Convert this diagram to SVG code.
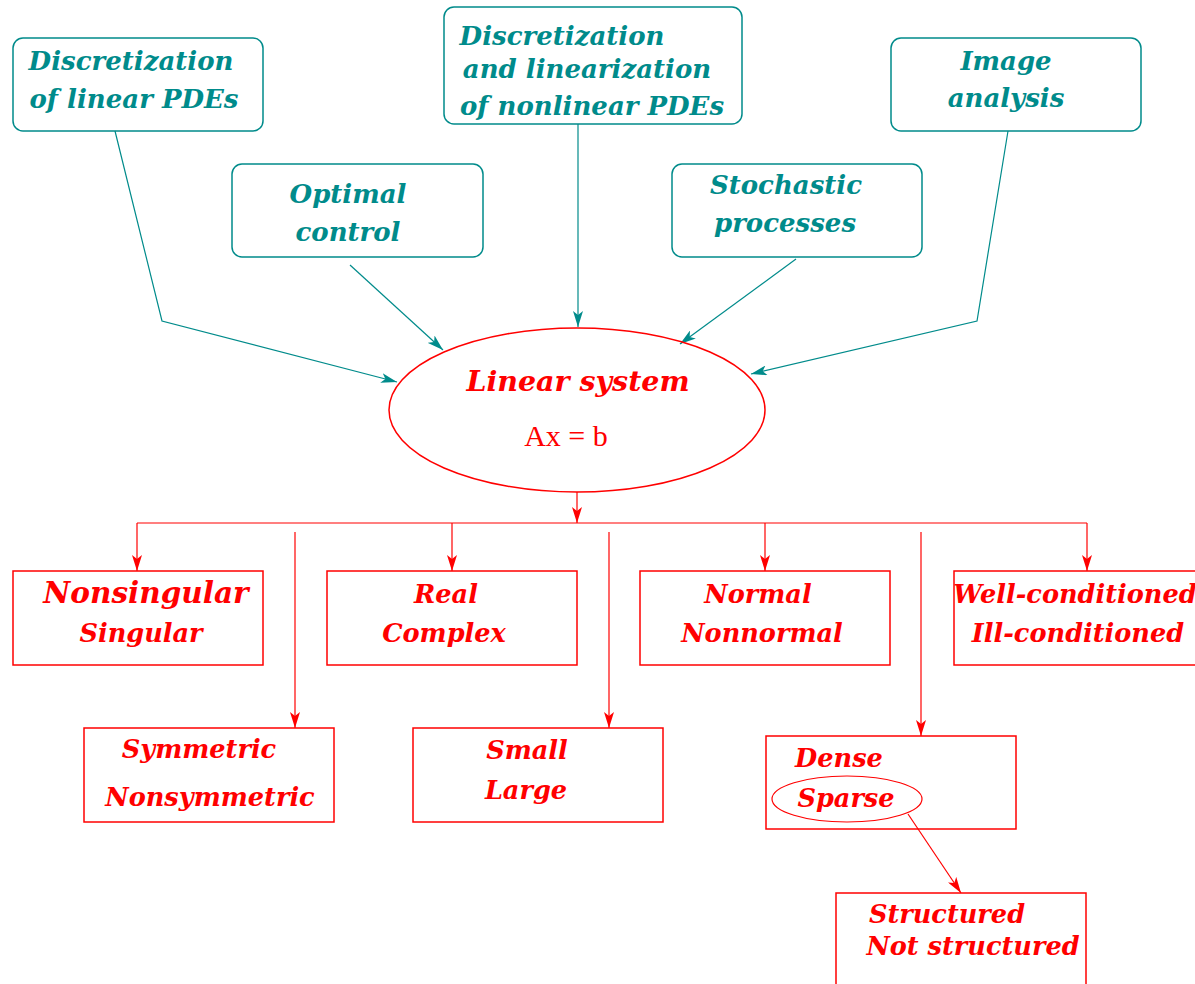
<svg xmlns="http://www.w3.org/2000/svg" width="1195" height="984" viewBox="0 0 1195 984">
<style>
.tbox{fill:none;stroke:#008b8b;stroke-width:1.5}
.rbox{fill:none;stroke:#ff0000;stroke-width:1.5}
.tl{font-family:"DejaVu Serif",serif;font-weight:bold;font-style:italic;font-size:26px;fill:#008b8b;text-anchor:middle}
.rl{font-family:"DejaVu Serif",serif;font-weight:bold;font-style:italic;font-size:25.6px;fill:#ff0000;text-anchor:middle}
.tc{fill:none;stroke:#008b8b;stroke-width:1.2}
.rc{fill:none;stroke:#ff0000;stroke-width:1.2}
</style>
<defs>
<marker id="at" viewBox="0 0 16 10" refX="16" refY="5" markerWidth="16" markerHeight="10" markerUnits="userSpaceOnUse" orient="auto">
<path d="M0,0 L16,5 L0,10 L4,5 z" fill="#008b8b"/>
</marker>
<marker id="ar" viewBox="0 0 16 10" refX="16" refY="5" markerWidth="16" markerHeight="10" markerUnits="userSpaceOnUse" orient="auto">
<path d="M0,0 L16,5 L0,10 L4,5 z" fill="#ff0000"/>
</marker>
</defs>
<rect width="1195" height="984" fill="#ffffff"/>
<g id="connectors">
<polyline class="tc" points="115,131 162,321 397,382" marker-end="url(#at)"/>
<line class="tc" x1="350" y1="265" x2="443" y2="350" marker-end="url(#at)"/>
<line class="tc" x1="578" y1="124" x2="578" y2="327" marker-end="url(#at)"/>
<line class="tc" x1="796" y1="259" x2="680" y2="344" marker-end="url(#at)"/>
<polyline class="tc" points="1008,131 977,321 751,374" marker-end="url(#at)"/>
<line class="rc" x1="577" y1="492" x2="577" y2="523" marker-end="url(#ar)"/>
<line class="rc" x1="137" y1="523" x2="1087" y2="523"/>
<line class="rc" x1="137" y1="523" x2="137" y2="571" marker-end="url(#ar)"/>
<line class="rc" x1="452" y1="523" x2="452" y2="571" marker-end="url(#ar)"/>
<line class="rc" x1="765" y1="523" x2="765" y2="571" marker-end="url(#ar)"/>
<line class="rc" x1="1087" y1="523" x2="1087" y2="571" marker-end="url(#ar)"/>
<line class="rc" x1="295" y1="532" x2="295" y2="728" marker-end="url(#ar)"/>
<line class="rc" x1="609" y1="532" x2="609" y2="728" marker-end="url(#ar)"/>
<line class="rc" x1="921" y1="532" x2="921" y2="736" marker-end="url(#ar)"/>
<line class="rc" x1="908" y1="814" x2="961" y2="893" marker-end="url(#ar)"/>
</g>
<g id="n-linear-pdes">
<rect class="tbox" x="13" y="38" width="250" height="93" rx="10"/>
<text class="tl" x="131" y="70">Discretization</text>
<text class="tl" x="134" y="108">of linear PDEs</text>
</g>
<g id="n-nonlinear-pdes">
<rect class="tbox" x="444" y="7" width="298" height="117" rx="10"/>
<text class="tl" x="562" y="45">Discretization</text>
<text class="tl" x="587" y="78">and linearization</text>
<text class="tl" x="592" y="115">of nonlinear PDEs</text>
</g>
<g id="n-image">
<rect class="tbox" x="891" y="38" width="250" height="93" rx="10"/>
<text class="tl" x="1006" y="70">Image</text>
<text class="tl" x="1006" y="107">analysis</text>
</g>
<g id="n-optimal">
<rect class="tbox" x="232" y="164" width="251" height="93" rx="10"/>
<text class="tl" x="348" y="203">Optimal</text>
<text class="tl" x="348" y="241">control</text>
</g>
<g id="n-stochastic">
<rect class="tbox" x="672" y="164" width="250" height="93" rx="10"/>
<text class="tl" x="786" y="194">Stochastic</text>
<text class="tl" x="785" y="232">processes</text>
</g>
<g id="n-linear-system">
<ellipse cx="577" cy="410" rx="188" ry="82" fill="none" stroke="#ff0000" stroke-width="1.5"/>
<text class="rl" x="578" y="391" style="font-size:28.5px">Linear system</text>
<text x="566" y="446" style="font-family:'Liberation Serif',serif;font-size:30px;fill:#ff0000;text-anchor:middle">Ax = b</text>
</g>
<g id="n-singular">
<rect class="rbox" x="13" y="571" width="250" height="94"/>
<text class="rl" x="146" y="603" style="font-size:29.5px">Nonsingular</text>
<text class="rl" x="141" y="642">Singular</text>
</g>
<g id="n-real">
<rect class="rbox" x="327" y="571" width="250" height="94"/>
<text class="rl" x="446" y="603">Real</text>
<text class="rl" x="444" y="642">Complex</text>
</g>
<g id="n-normal">
<rect class="rbox" x="640" y="571" width="250" height="94"/>
<text class="rl" x="758" y="603">Normal</text>
<text class="rl" x="762" y="642">Nonnormal</text>
</g>
<g id="n-conditioned">
<rect class="rbox" x="954" y="571" width="250" height="94"/>
<text class="rl" x="1075" y="603">Well-conditioned</text>
<text class="rl" x="1078" y="642">Ill-conditioned</text>
</g>
<g id="n-symmetric">
<rect class="rbox" x="84" y="728" width="250" height="94"/>
<text class="rl" x="199" y="758">Symmetric</text>
<text class="rl" x="210" y="806">Nonsymmetric</text>
</g>
<g id="n-size">
<rect class="rbox" x="413" y="728" width="250" height="94"/>
<text class="rl" x="527" y="759">Small</text>
<text class="rl" x="526" y="799">Large</text>
</g>
<g id="n-density">
<rect class="rbox" x="766" y="736" width="250" height="93"/>
<text class="rl" x="839" y="767">Dense</text>
<ellipse cx="847" cy="799" rx="75" ry="23" fill="none" stroke="#ff0000" stroke-width="1.2"/>
<text class="rl" x="846" y="807">Sparse</text>
</g>
<g id="n-structured">
<rect class="rbox" x="836" y="893" width="250" height="100"/>
<text class="rl" x="947" y="923">Structured</text>
<text class="rl" x="973" y="955">Not structured</text>
</g>
</svg>
